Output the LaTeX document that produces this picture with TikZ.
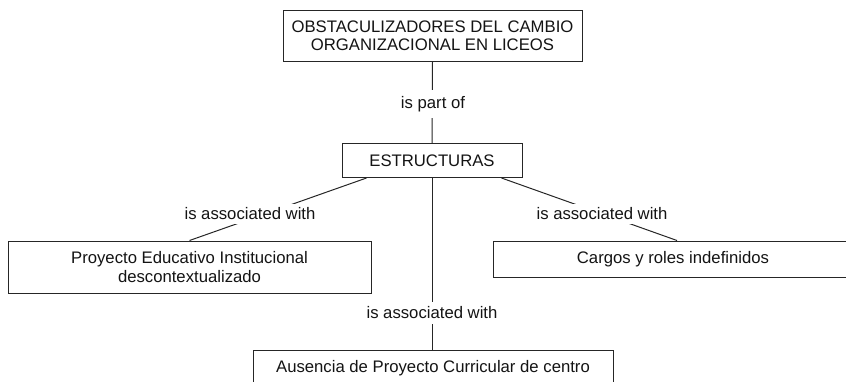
\documentclass[tikz,border=0pt]{standalone}
\usepackage{fontspec}
\setmainfont{Liberation Sans}
\usetikzlibrary{calc}
\begin{document}
\begin{tikzpicture}[x=1pt,y=-1pt,
  every node/.style={font=\fontsize{16.7}{18.3}\selectfont, text=black!92},
  concept/.style={draw=black!85, line width=1pt, fill=white, align=center, inner sep=0pt},
  linklabel/.style={fill=white, inner xsep=1pt, inner ysep=4pt},
  link/.style={draw=black!85, line width=1pt}]
\useasboundingbox (0,0) rectangle (846,381);
\begin{scope}
\clip (0,0) rectangle (846,381);
\node[concept, minimum width=299pt, minimum height=51pt] (top) at (432.5,35.5) {OBSTACULIZADORES DEL CAMBIO\\ORGANIZACIONAL EN LICEOS};
\node[concept, minimum width=180pt, minimum height=34pt] (estr) at (432,160.5) {ESTRUCTURAS};
\node[concept, minimum width=363pt, minimum height=52pt] (left) at (189.5,267) {Proyecto Educativo Institucional\\descontextualizado};
\node[concept, minimum width=360pt, minimum height=36pt] (right) at (673,259) {Cargos y roles indefinidos};
\node[concept, minimum width=360pt, minimum height=36pt] (bottom) at (433,368) {Ausencia de Proyecto Curricular de centro};
\coordinate (estrL) at ($(estr.south west)+(25,0)$);
\coordinate (estrR) at ($(estr.south east)+(-21,0)$);
\coordinate (rightN) at ($(right.north)+(4,0)$);
\draw[link] (top.south) -- (estr.north);
\draw[link] (estrL) -- (left.north);
\draw[link] (estrR) -- (rightN);
\draw[link] (estr.south) -- (estr.south |- bottom.north);
\node[linklabel, inner ysep=6pt] (l1) at (433,104) {is part of};
\node[linklabel] (l2) at (250,214) {is associated with};
\node[linklabel] (l3) at (602,214) {is associated with};
\node[linklabel, inner ysep=5pt] (l4) at (432,313) {is associated with};
\end{scope}
\end{tikzpicture}
\end{document}
